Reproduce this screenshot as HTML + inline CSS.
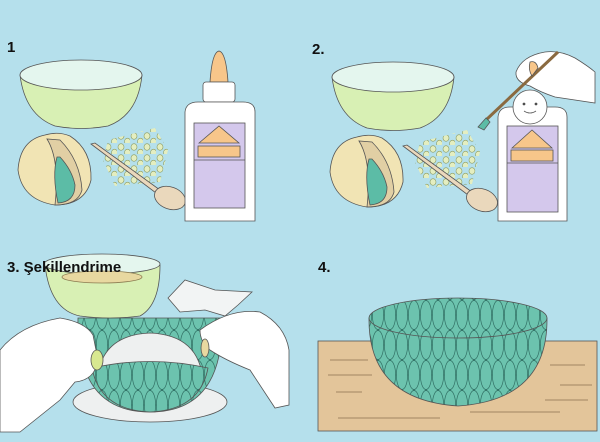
<!DOCTYPE html>
<html><head><meta charset="utf-8"><style>
html,body{margin:0;padding:0;background:#b5e0ec;}
svg{display:block}
text{font-family:"Liberation Sans",sans-serif;font-weight:bold;fill:#111}
</style></head><body>
<svg width="600" height="442" viewBox="0 0 600 442" xmlns="http://www.w3.org/2000/svg">
<defs>
<pattern id="seeds" width="13" height="11" patternUnits="userSpaceOnUse">
<ellipse cx="4" cy="4" rx="3" ry="3.3" fill="#e4eec0" stroke="#8a9a60" stroke-width="0.6"/>
<ellipse cx="10.5" cy="9.5" rx="3" ry="3.3" fill="#e4eec0" stroke="#8a9a60" stroke-width="0.6"/>
</pattern>
<pattern id="tiles" width="12" height="30" patternUnits="userSpaceOnUse">
<ellipse cx="0" cy="0" rx="5.6" ry="14.5" fill="#6cc3ae" stroke="#2f6e62" stroke-width="0.7"/>
<ellipse cx="12" cy="0" rx="5.6" ry="14.5" fill="#6cc3ae" stroke="#2f6e62" stroke-width="0.7"/>
<ellipse cx="0" cy="30" rx="5.6" ry="14.5" fill="#6cc3ae" stroke="#2f6e62" stroke-width="0.7"/>
<ellipse cx="12" cy="30" rx="5.6" ry="14.5" fill="#6cc3ae" stroke="#2f6e62" stroke-width="0.7"/>
<ellipse cx="6" cy="15" rx="5.6" ry="14.5" fill="#6cc3ae" stroke="#2f6e62" stroke-width="0.7"/>
</pattern>
<g id="common" stroke="#555" stroke-width="0.8">
<path d="M20 75 Q25 115 55 126 Q81 131 108 126 Q138 115 142 75 Z" fill="#d8f0b4"/>
<ellipse cx="81" cy="75" rx="61" ry="15" fill="#e4f6ee"/>
<path d="M45 135 Q20 140 18 170 Q22 200 55 205 Q85 205 91 180 Q92 150 70 136 Q58 131 45 135Z" fill="#f1e4b4"/>
<path d="M47 139 Q60 160 55 205 Q78 205 82 190 Q80 160 60 140Z" fill="#e1cfa4"/>
<path d="M57 157 Q52 175 58 203 Q75 202 75 185 Q72 170 60 157Z" fill="#5cbca6"/>
<path d="M108 140 L155 128 L168 150 L160 182 L115 186 L103 160Z" fill="url(#seeds)" stroke="none"/>
<path d="M91 144 L95 143 L160 190 L156 193 Z" fill="#ead8bc"/>
<ellipse cx="170" cy="198" rx="16" ry="11" fill="#ead8bc" transform="rotate(20 170 198)"/>
</g>
</defs>
<rect width="600" height="442" fill="#b5e0ec"/>

<use href="#common"/>
<use href="#common" transform="translate(312,2)"/>

<g stroke="#555" stroke-width="0.8">
<path d="M210 82 Q212 52 219 51 Q226 52 228 82Z" fill="#f7c68a"/>
<rect x="203" y="82" width="32" height="20" rx="3" fill="#fff"/>
<path d="M185 112 Q186 102 198 102 L243 102 Q255 102 255 112 L255 221 L185 221Z" fill="#fff"/>
<rect x="194" y="123" width="51" height="85" fill="#d4c8ec"/>
<line x1="194" y1="160" x2="245" y2="160"/>
<path d="M199 143 L219 126 L239 143Z" fill="#f7c68a"/>
<rect x="198" y="146" width="42" height="11" fill="#f7c68a"/>
</g>
<g stroke="#555" stroke-width="0.8">
<path d="M498 117 Q499 107 510 107 L555 107 Q567 107 567 117 L567 221 L498 221Z" fill="#fff"/>
<rect x="507" y="126" width="51" height="86" fill="#d4c8ec"/>
<line x1="507" y1="163" x2="558" y2="163"/>
<path d="M512 148 L532 130 L552 148Z" fill="#f7c68a"/>
<rect x="511" y="150" width="42" height="11" fill="#f7c68a"/>
<circle cx="530" cy="107" r="17" fill="#fff"/>
<circle cx="524" cy="104" r="1" fill="#333"/><circle cx="536" cy="104" r="1" fill="#333"/>
<path d="M524 111 Q530 115 536 111" fill="none"/>
<path d="M516 72 Q522 56 545 52 Q560 50 575 58 Q588 66 595 72 L595 103 Q575 100 555 97 Q540 92 530 86 Q515 82 516 72Z" fill="#fff"/>
<line x1="558" y1="52" x2="486" y2="120" stroke="#8a6a40" stroke-width="3"/>
<path d="M486 118 L478 127 L484 130 L490 122Z" fill="#5cbca6"/>
<path d="M530 62 Q536 60 538 68 L532 76 Q528 70 530 62Z" fill="#f7c68a"/>
</g>

<!-- step 3 -->
<g stroke="#555" stroke-width="0.8">
<path d="M168 298 L185 280 L215 290 L252 292 L238 305 L225 316 L205 310 L180 312Z" fill="#f2f4f4"/>
<ellipse cx="150" cy="402" rx="77" ry="20" fill="#eef0f0"/>
<path d="M78 318 Q76 412 150 412 Q224 412 222 318 Z" fill="url(#tiles)"/>
<path d="M97 382 Q100 335 150 333 Q200 335 203 382 Z" fill="#eef0f0"/>
<path d="M92 368 Q150 355 208 368 Q200 410 150 412 Q100 410 92 368Z" fill="url(#tiles)"/>
<path d="M45 265 Q50 310 80 316 Q110 320 140 316 Q160 305 160 265Z" fill="#d8f0b4"/>
<ellipse cx="102" cy="264" rx="58" ry="10" fill="#e4f6ee"/>
<ellipse cx="102" cy="277" rx="40" ry="6" fill="#e8d8a0" stroke="#8a7a50"/>
<path d="M0 350 Q20 325 60 318 Q85 322 93 335 L98 360 Q95 380 75 382 L60 400 L20 432 L0 432Z" fill="#fff"/>
<ellipse cx="97" cy="360" rx="6" ry="10" fill="#d8e890"/>
<path d="M200 330 Q230 308 260 312 Q285 325 289 350 L289 405 L275 408 L250 370 Q225 360 210 350 Q200 342 200 330Z" fill="#fff"/>
<ellipse cx="205" cy="348" rx="4" ry="9" fill="#e8d8a0"/>
</g>

<!-- step 4 -->
<g stroke="#555" stroke-width="0.8">
<rect x="318" y="341" width="279" height="90" fill="#e3c59a"/>
<path d="M330 360 H368 M328 375 H372 M336 392 H362 M550 365 H585 M560 385 H592 M338 418 H440 M470 412 H560 M545 400 H588" stroke="#8a7050" fill="none"/>
<path d="M369 318 Q368 400 458 406 Q548 400 547 318 Z" fill="url(#tiles)"/>
<ellipse cx="458" cy="318" rx="89" ry="20" fill="url(#tiles)"/>
</g>

<text x="7" y="52" font-size="15">1</text>
<text x="312" y="54" font-size="15">2.</text>
<text x="7" y="272" font-size="15">3. Şekillendrime</text>
<text x="318" y="272" font-size="15">4.</text>
</svg>
</body></html>
